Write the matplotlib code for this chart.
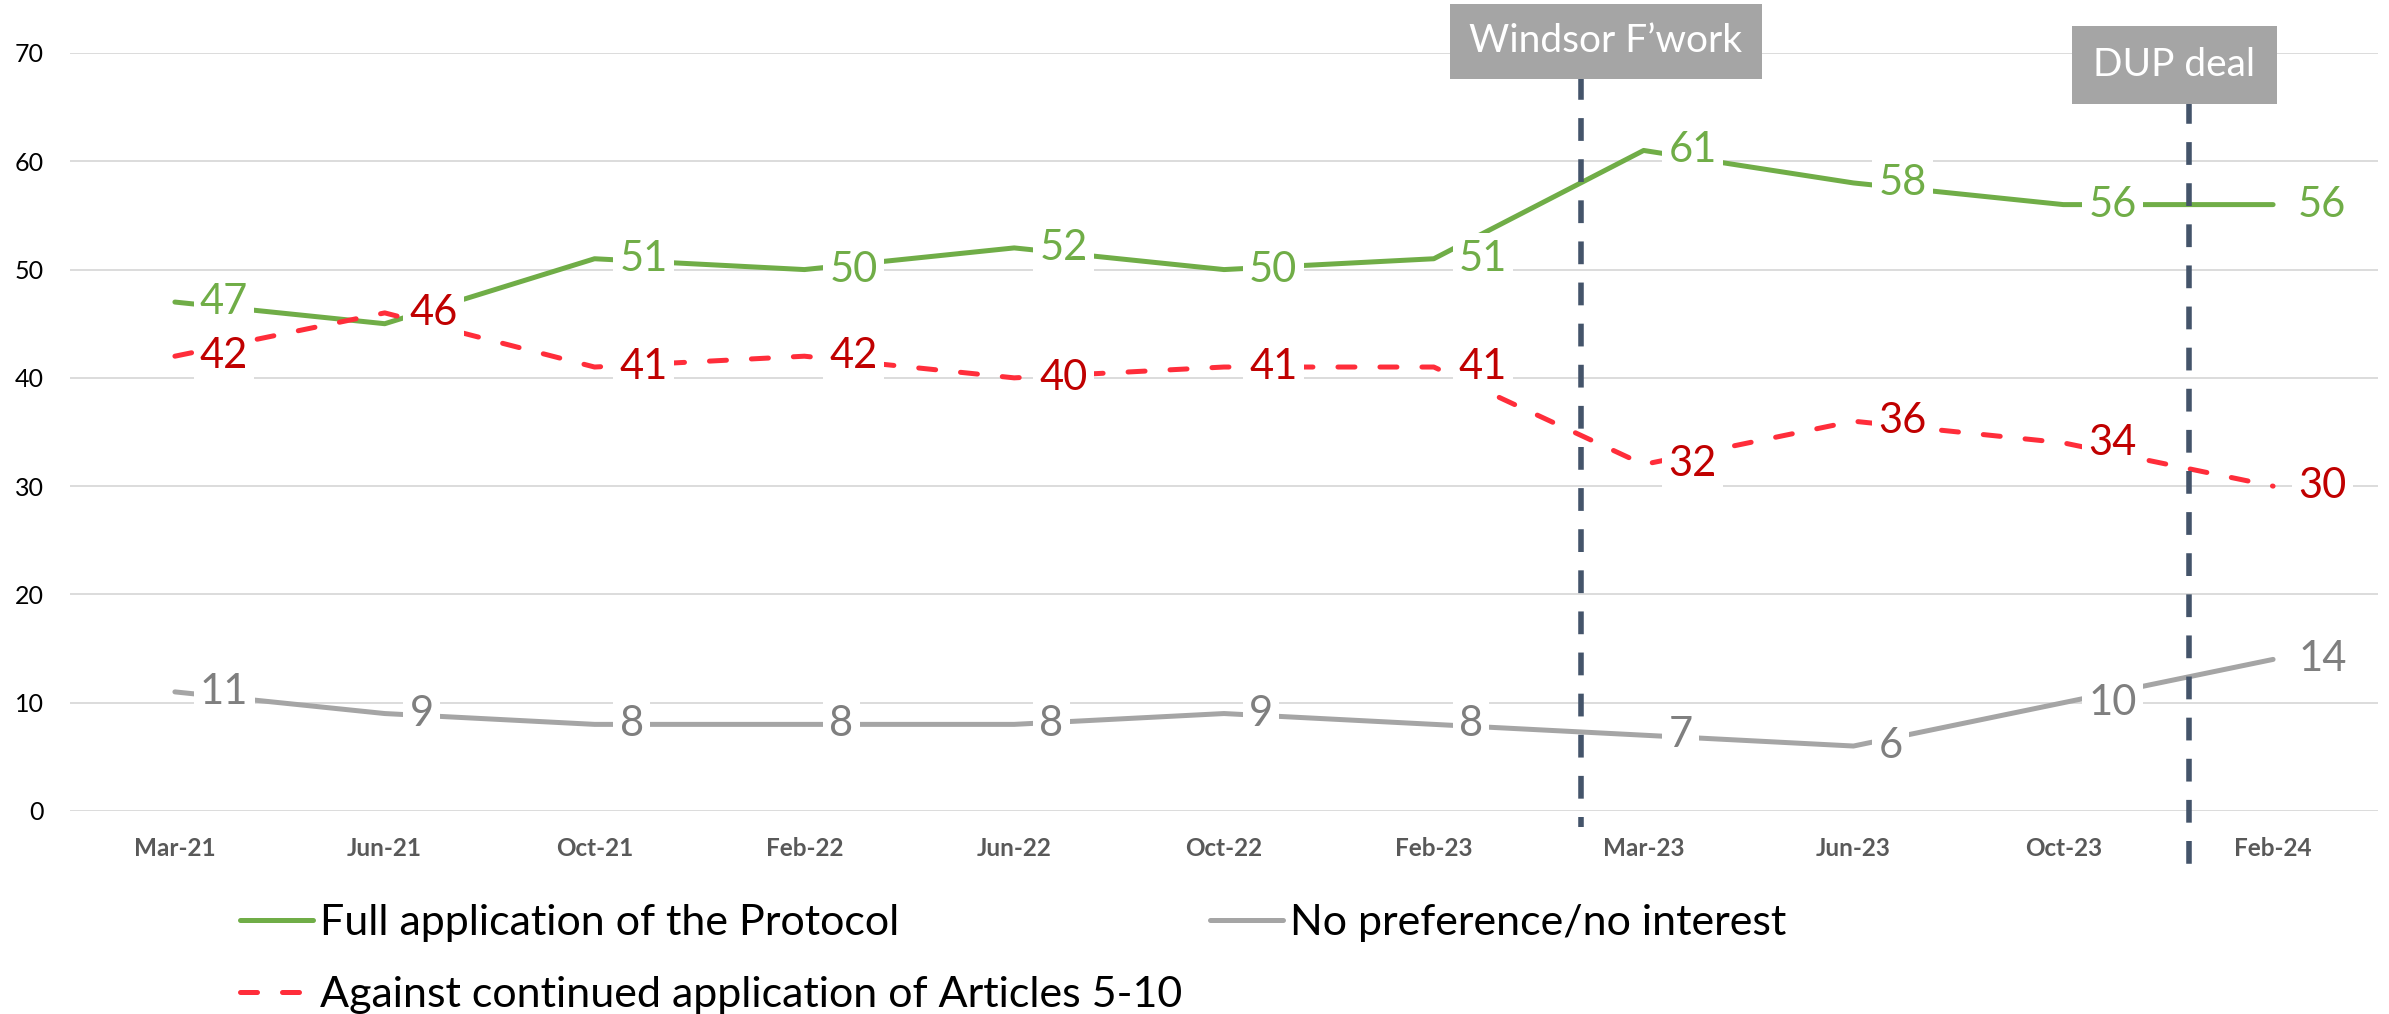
import matplotlib
matplotlib.use('Agg')
import matplotlib.pyplot as plt

plt.rcParams['font.family'] = ['Lato', 'DejaVu Sans']

# Data
months = ['Mar-21', 'Jun-21', 'Oct-21', 'Feb-22', 'Jun-22', 'Oct-22',
          'Feb-23', 'Mar-23', 'Jun-23', 'Oct-23', 'Feb-24']
full_protocol = [47, 45, 51, 50, 52, 50, 51, 61, 58, 56, 56]
against_art = [42, 46, 41, 42, 40, 41, 41, 32, 36, 34, 30]
no_pref = [11, 9, 8, 8, 8, 9, 8, 7, 6, 10, 14]
# the Jun-21 label of the green series is hidden in the original
full_show = [1, 0, 1, 1, 1, 1, 1, 1, 1, 1, 1]

events = ['Windsor F\u2019work', 'DUP deal']
event_x = [6.7, 9.6]

W, H = 2389, 1014
fig = plt.figure(figsize=(W / 100, H / 100), dpi=100)
ax = fig.add_axes([70 / W, 1 - 811 / H, (2378 - 70) / W, (811 - 53) / H])

x = list(range(len(months)))
green, red, grey = '#70AD47', '#FF2D3A', '#A5A5A5'

l1, = ax.plot(x, full_protocol, color=green, lw=3.6, solid_capstyle='round',
              solid_joinstyle='round', zorder=3, label='Full application of the Protocol')
l2, = ax.plot(x, against_art, color=red, lw=3.6, linestyle=(0, (3.4, 5)),
              dash_capstyle='round', zorder=3,
              label='Against continued application of Articles 5-10')
l3, = ax.plot(x, no_pref, color=grey, lw=3.6, solid_capstyle='round',
              solid_joinstyle='round', zorder=3, label='No preference/no interest')

def labels(vals, col, show=None):
    for i, v in enumerate(vals):
        if show is not None and not show[i]:
            continue
        ax.annotate(str(v), (i, v), xytext=(18, 0), textcoords='offset points',
                    ha='left', va='center', fontsize=30, color=col, zorder=6,
                    bbox=dict(boxstyle='square,pad=0.15', fc='white', ec='none'))

labels(full_protocol, green, full_show)
labels(against_art, '#C00000')
labels(no_pref, '#7F7F7F')

# event markers
ax.plot([event_x[0]] * 2, [67.8, -1.5], color='#44546A', lw=4,
        linestyle=(0, (4.1, 3.3)), clip_on=False, zorder=4)
ax.plot([event_x[1]] * 2, [65.6, -4.9], color='#44546A', lw=4,
        linestyle=(0, (4.1, 3.3)), clip_on=False, zorder=4)
ax.text(6.82, 71.1, events[0], ha='center', va='center', fontsize=28, color='white',
        clip_on=False, zorder=7,
        bbox=dict(boxstyle='square,pad=0.5', fc='#A5A5A5', ec='none'))
ax.text(9.53, 68.9, events[1], ha='center', va='center', fontsize=28, color='white',
        clip_on=False, zorder=7,
        bbox=dict(boxstyle='square,pad=0.55', fc='#A5A5A5', ec='none'))

ax.set_xlim(-0.5, 10.5)
ax.set_ylim(0, 70)
ax.set_yticks(range(0, 71, 10))
ax.set_xticks(x)
ax.set_xticklabels(months, fontsize=17.5, fontweight='bold', color='#595959')
ax.tick_params(axis='y', length=0, pad=19, labelsize=18, labelcolor='black')
ax.tick_params(axis='x', length=0, pad=19)
ax.grid(axis='y', color='#D9D9D9', lw=1.3)
ax.set_axisbelow(True)
for s in ax.spines.values():
    s.set_visible(False)

fig.legend(handles=[l1, l2], loc='upper left', bbox_to_anchor=(240 / W, 1 - 904 / H),
           frameon=False, fontsize=31, handlelength=1.7, handletextpad=0.15,
           labelspacing=0.78, borderpad=0, borderaxespad=0)
fig.legend(handles=[l3], loc='upper left', bbox_to_anchor=(1210 / W, 1 - 904 / H),
           frameon=False, fontsize=31, handlelength=1.7, handletextpad=0.15,
           borderpad=0, borderaxespad=0)

fig.savefig('out.png', dpi=100)
